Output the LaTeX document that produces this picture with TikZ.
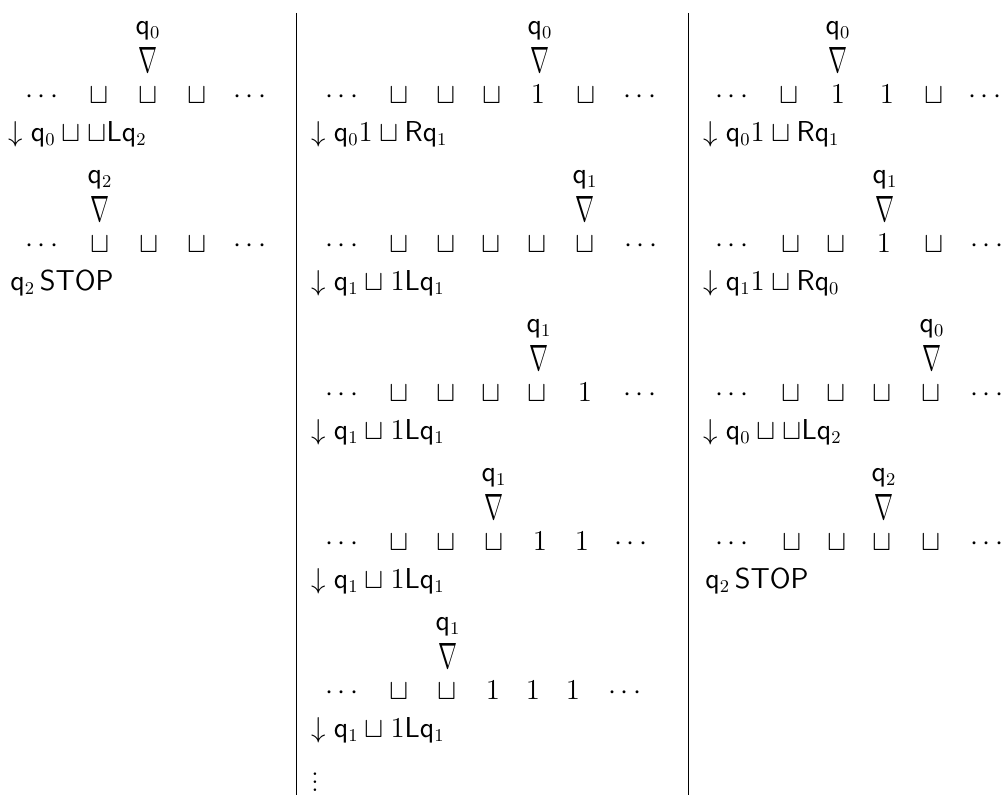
\documentclass[tikz,border=0pt]{standalone}
\usepackage{graphicx}
\newcommand{\headmark}{\resizebox{9.5pt}{12.5pt}{$\nabla$}}
\tikzset{
  cell/.style={anchor=base, inner sep=0pt},
  instr/.style={anchor=base west, inner sep=0pt},
  sep/.style={line width=0.5pt}
}
\begin{document}
\begin{tikzpicture}[x=0.5pt, y=-0.5pt, font=\fontsize{13.5}{16}\selectfont]
\useasboundingbox (0,0) rectangle (1002,795);
% separators
\coordinate (s1top) at (296,13);
\coordinate (s1bot) at (296,795);
\coordinate (s2top) at (688,13);
\coordinate (s2bot) at (688,795);
\draw[sep] (s1top) -- (s1bot);
\draw[sep] (s2top) -- (s2bot);
% column 1
\node[cell] (h10) at (148,34.5) {$\mathsf{q}_0$};
\node[cell] (p10) at (148,73) {\headmark};
\foreach \x/\s [count=\i] in {42/\cdots, 99/\sqcup, 148/\sqcup, 197/\sqcup, 250/\cdots}
  \node[cell] (t10-\i) at (\x,103.5) {$\s$};
\node[instr] (r10) at (8,141.5) {$\downarrow \mathsf{q}_0 \sqcup \sqcup \mathsf{L}\mathsf{q}_2$};
\node[cell] (h11) at (100,183.5) {$\mathsf{q}_2$};
\node[cell] (p11) at (100,222) {\headmark};
\foreach \x/\s [count=\i] in {42/\cdots, 100/\sqcup, 149/\sqcup, 197/\sqcup, 250/\cdots}
  \node[cell] (t11-\i) at (\x,252.5) {$\s$};
\node[instr] (r11) at (10,290.5) {$\mathsf{q}_2\,\mathsf{STOP}$};
% column 2
\node[cell] (h20) at (540,34.5) {$\mathsf{q}_0$};
\node[cell] (p20) at (540,73) {\headmark};
\foreach \x/\s [count=\i] in {342/\cdots, 399/\sqcup, 446/\sqcup, 492/\sqcup, 538/1, 586/\sqcup, 640/\cdots}
  \node[cell] (t20-\i) at (\x,103.5) {$\s$};
\node[instr] (r20) at (311,141.5) {$\downarrow \mathsf{q}_0 1 \sqcup \mathsf{R}\mathsf{q}_1$};
\node[cell] (h21) at (585,183.5) {$\mathsf{q}_1$};
\node[cell] (p21) at (585,222) {\headmark};
\foreach \x/\s [count=\i] in {342/\cdots, 399/\sqcup, 446/\sqcup, 491/\sqcup, 537/\sqcup, 585/\sqcup, 641/\cdots}
  \node[cell] (t21-\i) at (\x,252.5) {$\s$};
\node[instr] (r21) at (311,290.5) {$\downarrow \mathsf{q}_1 \sqcup 1\mathsf{L}\mathsf{q}_1$};
\node[cell] (h22) at (539,332.5) {$\mathsf{q}_1$};
\node[cell] (p22) at (539,371) {\headmark};
\foreach \x/\s [count=\i] in {342/\cdots, 399/\sqcup, 446/\sqcup, 491/\sqcup, 537/\sqcup, 585/1, 640/\cdots}
  \node[cell] (t22-\i) at (\x,401.5) {$\s$};
\node[instr] (r22) at (311,439.5) {$\downarrow \mathsf{q}_1 \sqcup 1\mathsf{L}\mathsf{q}_1$};
\node[cell] (h23) at (494,481.5) {$\mathsf{q}_1$};
\node[cell] (p23) at (494,520) {\headmark};
\foreach \x/\s [count=\i] in {342/\cdots, 399/\sqcup, 446/\sqcup, 494/\sqcup, 540/1, 582/1, 631/\cdots}
  \node[cell] (t23-\i) at (\x,550.5) {$\s$};
\node[instr] (r23) at (311,588.5) {$\downarrow \mathsf{q}_1 \sqcup 1\mathsf{L}\mathsf{q}_1$};
\node[cell] (h24) at (448,630.5) {$\mathsf{q}_1$};
\node[cell] (p24) at (448,669) {\headmark};
\foreach \x/\s [count=\i] in {342/\cdots, 399/\sqcup, 447/\sqcup, 493/1, 533/1, 573/1, 625/\cdots}
  \node[cell] (t24-\i) at (\x,699.5) {$\s$};
\node[instr] (r24) at (311,737.5) {$\downarrow \mathsf{q}_1 \sqcup 1\mathsf{L}\mathsf{q}_1$};
\node[inner sep=0pt] (more) at (315,776) {$\vdots$};
% column 3
\node[cell] (h30) at (838,34.5) {$\mathsf{q}_0$};
\node[cell] (p30) at (838,73) {\headmark};
\foreach \x/\s [count=\i] in {732/\cdots, 789/\sqcup, 838/1, 887/1, 934/\sqcup, 985/\cdots}
  \node[cell] (t30-\i) at (\x,103.5) {$\s$};
\node[instr] (r30) at (703,141.5) {$\downarrow \mathsf{q}_0 1 \sqcup \mathsf{R}\mathsf{q}_1$};
\node[cell] (h31) at (885,183.5) {$\mathsf{q}_1$};
\node[cell] (p31) at (885,222) {\headmark};
\foreach \x/\s [count=\i] in {732/\cdots, 791/\sqcup, 836/\sqcup, 884/1, 934/\sqcup, 987/\cdots}
  \node[cell] (t31-\i) at (\x,252.5) {$\s$};
\node[instr] (r31) at (703,290.5) {$\downarrow \mathsf{q}_1 1 \sqcup \mathsf{R}\mathsf{q}_0$};
\node[cell] (h32) at (932,332.5) {$\mathsf{q}_0$};
\node[cell] (p32) at (932,371) {\headmark};
\foreach \x/\s [count=\i] in {732/\cdots, 791/\sqcup, 836/\sqcup, 882/\sqcup, 931/\sqcup, 987/\cdots}
  \node[cell] (t32-\i) at (\x,401.5) {$\s$};
\node[instr] (r32) at (703,439.5) {$\downarrow \mathsf{q}_0 \sqcup \sqcup \mathsf{L}\mathsf{q}_2$};
\node[cell] (h33) at (884,481.5) {$\mathsf{q}_2$};
\node[cell] (p33) at (884,520) {\headmark};
\foreach \x/\s [count=\i] in {732/\cdots, 792/\sqcup, 837/\sqcup, 882/\sqcup, 931/\sqcup, 987/\cdots}
  \node[cell] (t33-\i) at (\x,550.5) {$\s$};
\node[instr] (r33) at (705,588.5) {$\mathsf{q}_2\,\mathsf{STOP}$};
\end{tikzpicture}
\end{document}
